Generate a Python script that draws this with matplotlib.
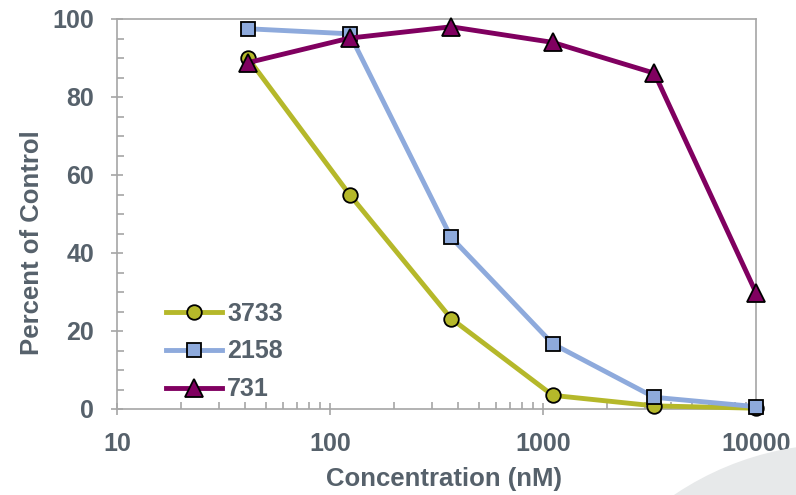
import numpy as np
import matplotlib
matplotlib.use("Agg")
import matplotlib.pyplot as plt
from matplotlib.patches import Ellipse

# concentrations (nM), 3-fold dilutions
conc = [41.15, 123.5, 370.4, 1111.1, 3333.3, 10000]

# percent of control for each compound
pct_3733 = [90.0, 55.0, 23.2, 3.5, 0.8, 0.2]
pct_2158 = [97.5, 96.2, 44.0, 16.7, 3.0, 0.6]
pct_731 = [88.8, 95.1, 98.0, 94.0, 86.1, 29.8]

series_names = ["3733", "2158", "731"]
x_ticks = [10, 100, 1000, 10000]
x_ticklabels = ["10", "100", "1000", "10000"]
y_ticks = [0, 20, 40, 60, 80, 100]

txt_color = "#56616b"
plt.rcParams['font.family'] = ['Liberation Sans', 'DejaVu Sans']
plt.rcParams['font.weight'] = 'bold'

fig = plt.figure(figsize=(7.96, 4.95), dpi=100)

# light gray swoosh in the bottom right corner
swoosh = Ellipse((840 / 796, -245 / 495), 2 * 296 / 796, 2 * 296 / 495,
                 transform=fig.transFigure, facecolor="#e7e9ea", edgecolor="none", zorder=0)
fig.patches.append(swoosh)

ax = fig.add_axes([117 / 796, 1 - 409 / 495, 639 / 796, 390 / 495])
ax.patch.set_alpha(0)

ax.plot(conc, pct_3733, color="#b5b82a", lw=3.5, marker="o", ms=10.5,
        mfc="#b5b82a", mec="black", mew=1.3, clip_on=False, label=series_names[0], zorder=3)
ax.plot(conc, pct_2158, color="#8eaadc", lw=3.5, marker="s", ms=10.5,
        mfc="#8eaadc", mec="black", mew=1.3, clip_on=False, label=series_names[1], zorder=4)
ax.plot(conc, pct_731, color="#800060", lw=3.5, marker="^", ms=12.5,
        mfc="#800060", mec="black", mew=1.3, clip_on=False, label=series_names[2], zorder=5)

ax.set_xscale("log")
ax.set_xlim(10, 10000)
ax.set_ylim(0, 100)
ax.set_xticks(x_ticks)
ax.set_xticklabels(x_ticklabels)
ax.set_yticks(y_ticks)
ax.set_yticks(np.arange(0, 101, 5), minor=True)

for side in ["left", "bottom", "top", "right"]:
    ax.spines[side].set_color("#a6a6a6")
    ax.spines[side].set_linewidth(1.2)

ax.tick_params(which="major", direction="inout", length=9, width=1.2, color="#a6a6a6",
               labelsize=18, labelcolor=txt_color)
ax.tick_params(which="minor", direction="in", length=5, width=1.2, color="#a6a6a6")
ax.tick_params(axis="y", which="major", pad=12)
ax.tick_params(axis="x", which="major", pad=12)
ax.tick_params(axis="x", which="minor", labelbottom=False)

ax.set_xlabel("Concentration (nM)", fontsize=18.5, color=txt_color, fontweight="bold")
ax.set_ylabel("Percent of Control", fontsize=18.5, color=txt_color, fontweight="bold")
ax.xaxis.set_label_coords(0.512, -0.148)
ax.yaxis.set_label_coords(-0.115, 0.426)

leg = ax.legend(loc="upper left", bbox_to_anchor=(0.0767, 0.275), frameon=False,
                fontsize=18, handlelength=2.25, handletextpad=0.2, labelspacing=0.55,
                borderpad=0, borderaxespad=0)
for t in leg.get_texts():
    t.set_color(txt_color)

fig.savefig("out.png", dpi=100)
